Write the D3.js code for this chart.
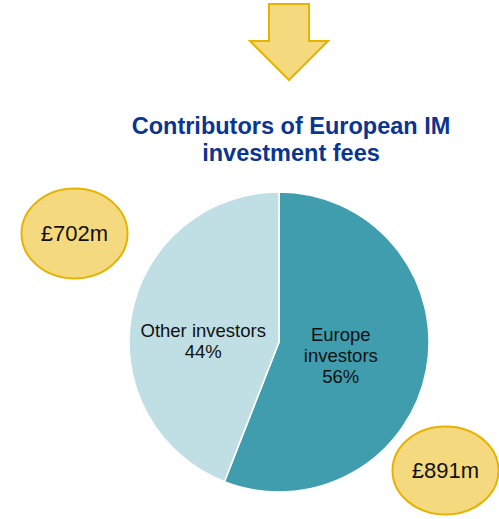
<!DOCTYPE html>
<html>
<head>
<meta charset="utf-8">
<style>
  body { margin: 0; background: #fff; }
  text { font-family: "Liberation Sans", Arial, sans-serif; }
  .title { font-weight: bold; fill: #0a3590; font-size: 23.5px; }
  .slice-label { font-size: 18.5px; fill: #111; }
  .bubble-label { font-size: 22px; fill: #111; }
</style>
</head>
<body>
<script src="https://d3js.org/d3.v7.min.js"></script>
<div class="chart"></div>
<script>
var categories = ["Europe investors", "Other investors"];
var values = [891, 702];            // £m
var labelLines = [["Europe", "investors"], ["Other investors"]];
var colours = ["#409dae", "#bfdfe4"];

var width = 499, height = 519;
var cx = 279, cy = 342, radius = 150;

var svg = d3.select(".chart").append("svg")
    .attr("width", width)
    .attr("height", height);

// arrow at the top
var arrow = d3.path();
arrow.moveTo(269, 4); arrow.lineTo(309, 4); arrow.lineTo(309, 41);
arrow.lineTo(328, 41); arrow.lineTo(289, 80); arrow.lineTo(250, 41);
arrow.lineTo(269, 41); arrow.closePath();
svg.append("path")
    .attr("d", arrow.toString())
    .attr("fill", "#f5d97f")
    .attr("stroke", "#e6b300")
    .attr("stroke-width", 2);

// title
svg.append("text").attr("class", "title")
    .attr("x", 291).attr("y", 134).attr("text-anchor", "middle")
    .text("Contributors of European IM");
svg.append("text").attr("class", "title")
    .attr("x", 291).attr("y", 161).attr("text-anchor", "middle")
    .text("investment fees");

var total = d3.sum(values);
var data = categories.map(function(c, i) {
    return { name: c, value: values[i], lines: labelLines[i], colour: colours[i] };
});

var pie = d3.pie().sort(null).value(function(d) { return d.value; });
var arc = d3.arc().innerRadius(0).outerRadius(radius);
var labelArc = d3.arc().innerRadius(70).outerRadius(70);

var g = svg.append("g").attr("transform", "translate(" + cx + "," + cy + ")");

var arcs = pie(data);

g.selectAll("path.slice")
    .data(arcs)
    .enter().append("path")
    .attr("class", "slice")
    .attr("d", arc)
    .attr("fill", function(d) { return d.data.colour; })
    .attr("stroke", "#fff")
    .attr("stroke-width", 1.5);

var lineH = 21;
var labelShift = [[-7, -14], [-7, 8]];   // nudge from the centroid to the first baseline
g.selectAll("text.slice-label")
    .data(arcs)
    .enter().append("text")
    .attr("class", "slice-label")
    .attr("text-anchor", "middle")
    .attr("transform", function(d, i) {
        var c = labelArc.centroid(d);
        return "translate(" + (c[0] + labelShift[i][0]) + "," + (c[1] + labelShift[i][1]) + ")";
    })
    .each(function(d) {
        var t = d3.select(this);
        var lines = d.data.lines.concat([Math.round(d.data.value / total * 100) + "%"]);
        lines.forEach(function(l, i) {
            t.append("tspan").attr("x", 0).attr("dy", i === 0 ? 0 : lineH).text(l);
        });
    });

// value bubbles
var bubbles = [
    { value: values[1], x: 74.5, y: 233.5, rx: 53, ry: 45 },
    { value: values[0], x: 445.5, y: 470.5, rx: 53, ry: 44 }
];
var bg = svg.selectAll("g.bubble")
    .data(bubbles)
    .enter().append("g")
    .attr("class", "bubble")
    .attr("transform", function(d) { return "translate(" + d.x + "," + d.y + ")"; });
bg.append("ellipse")
    .attr("rx", function(d) { return d.rx; })
    .attr("ry", function(d) { return d.ry; })
    .attr("fill", "#f5d97f")
    .attr("stroke", "#e6b300")
    .attr("stroke-width", 2);
bg.append("text")
    .attr("class", "bubble-label")
    .attr("text-anchor", "middle")
    .attr("dy", "0.35em")
    .text(function(d) { return "£" + d.value + "m"; });
</script>
</body>
</html>
